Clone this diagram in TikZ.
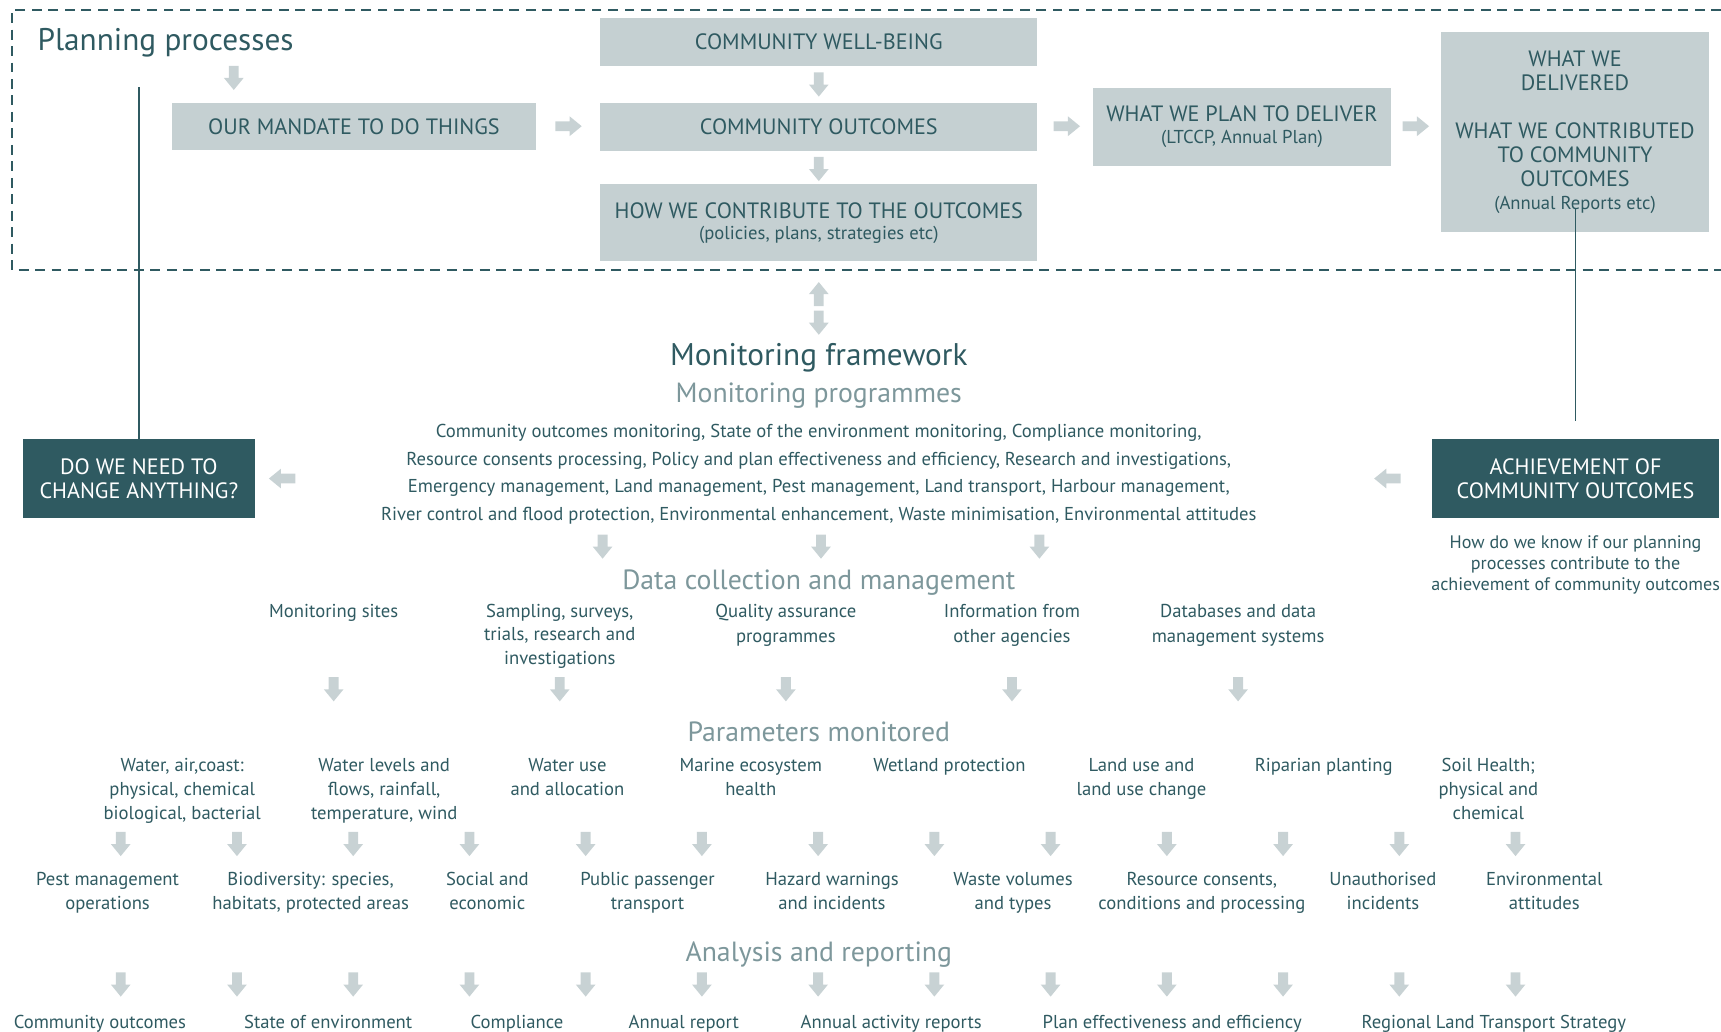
\documentclass[tikz,border=0pt]{standalone}
\usepackage{fontspec}
\setmainfont{PT Sans}
\definecolor{tealc}{HTML}{2F5A61}
\definecolor{boxc}{HTML}{C5D0D2}
\definecolor{arrc}{HTML}{C8D2D4}
\definecolor{greyc}{HTML}{7D979B}
\newcommand{\smallpar}{\fontsize{17}{18.5}\selectfont}
\begin{document}
\begin{tikzpicture}[x=1pt,y=-1pt,
  lbox/.style={fill=boxc, text=tealc, align=center, inner sep=0pt, font=\fontsize{20.2}{22}\selectfont},
  dbox/.style={fill=tealc, text=white, align=center, inner sep=0pt, font=\fontsize{20.2}{22}\selectfont},
  bigtitle/.style={text=tealc, inner sep=0pt, font=\fontsize{28.5}{32}\selectfont},
  subtitle/.style={text=greyc, inner sep=0pt, font=\fontsize{25.3}{28}\selectfont},
  item/.style={text=tealc, align=center, inner sep=0pt, anchor=base, font=\fontsize{17}{22}\selectfont},
  para/.style={text=tealc, align=center, inner sep=0pt, font=\fontsize{17}{25}\selectfont},
  link/.style={draw=tealc, line width=1.5pt},
  darr/.pic={\fill[arrc] (-4.5,0) -- (4.5,0) -- (4.5,11) -- (9,11) -- (0,22) -- (-9,11) -- (-4.5,11) -- cycle;},
  uarr/.pic={\fill[arrc] (0,0) -- (9,11) -- (4.5,11) -- (4.5,22) -- (-4.5,22) -- (-4.5,11) -- (-9,11) -- cycle;},
  rarr/.pic={\fill[arrc] (0,-4.5) -- (13,-4.5) -- (13,-9) -- (24,0) -- (13,9) -- (13,4.5) -- (0,4.5) -- cycle;},
  larr/.pic={\fill[arrc] (24,-4.5) -- (11,-4.5) -- (11,-9) -- (0,0) -- (11,9) -- (11,4.5) -- (24,4.5) -- cycle;}
]
\useasboundingbox (0,0) rectangle (1568,940);
% planning area
\draw[tealc, line width=1.8pt, dash pattern=on 9pt off 6pt] (1568,9) -- (11,9) -- (11,246) -- (1568,246);
\node[bigtitle, anchor=west] (pp) at (34,39) {Planning processes};
\node[lbox, minimum width=331, minimum height=43] (mandate) at (322.5,115.5) {OUR MANDATE TO DO THINGS};
\node[lbox, minimum width=398, minimum height=44] (cwb) at (746,38) {COMMUNITY WELL-BEING};
\node[lbox, minimum width=398, minimum height=44] (co) at (746,115.5) {COMMUNITY OUTCOMES};
\node[lbox, minimum width=398, minimum height=70] (how) at (746,203) {HOW WE CONTRIBUTE TO THE OUTCOMES\\[-3pt]\smallpar (policies, plans, strategies etc)};
\node[lbox, minimum width=271, minimum height=71] (plan) at (1131.5,115.5) {WHAT WE PLAN TO DELIVER\\[-2pt]\smallpar (LTCCP, Annual Plan)};
\node[lbox, minimum width=244, minimum height=182] (deliv) at (1435,120.5) {WHAT WE\\DELIVERED\\[22pt]WHAT WE CONTRIBUTED\\TO COMMUNITY\\OUTCOMES\\[-1pt]\smallpar (Annual Reports etc)};
\pic at (213,60) {darr};
\pic at (746,66) {darr};
\pic at (746,143) {darr};
\pic at (506,115) {rarr};
\pic at (960,115) {rarr};
\pic at (1278,115) {rarr};
% side boxes
\node[dbox, minimum width=211, minimum height=72] (change) at (126.5,436) {DO WE NEED TO\\CHANGE ANYTHING?};
\node[dbox, minimum width=261, minimum height=72] (achieve) at (1435.5,436) {ACHIEVEMENT OF\\COMMUNITY OUTCOMES};
\coordinate (ltop) at (126.5,79);
\draw[link] (change.north) -- (ltop);
\coordinate (rtop) at (1435.5,190);
\coordinate (rbot) at (1435.5,384);
\draw[link] (rtop) -- (rbot);
\pic at (245,436) {larr};
\pic at (1252,436) {larr};
\node[item, font=\fontsize{16.5}{19}\selectfont] (know) at (1435.5,538) {How do we know if our planning\\processes contribute to the\\achievement of community outcomes};
% monitoring framework
\pic at (746,257) {uarr};
\pic at (746,283) {darr};
\node[bigtitle] (mf) at (746,326) {Monitoring framework};
\node[subtitle] (mp) at (746,360) {Monitoring programmes};
\node[para] (prog) at (746,432) {Community outcomes monitoring, State of the environment monitoring, Compliance monitoring,\\Resource consents processing, Policy and plan effectiveness and efficiency, Research and investigations,\\Emergency management, Land management, Pest management, Land transport, Harbour management,\\River control and flood protection, Environmental enhancement, Waste minimisation, Environmental attitudes};
\foreach \x in {549,748,947} {\pic at (\x,487) {darr};}
% data collection
\node[subtitle] (dc) at (746,531) {Data collection and management};
\node[item] (d1) at (304,563) {Monitoring sites};
\node[item, font=\fontsize{17}{21}\selectfont] (d2) at (510,605) {Sampling, surveys,\\trials, research and\\investigations};
\node[item] (d3) at (716,585) {Quality assurance\\programmes};
\node[item] (d4) at (922,585) {Information from\\other agencies};
\node[item] (d5) at (1128,585) {Databases and data\\management systems};
\foreach \x in {304,510,716,922,1128} {\pic at (\x,617) {darr};}
% parameters
\node[subtitle] (pm) at (746,667) {Parameters monitored};
\node[item] (p1) at (166,747) {Water, air,coast:\\physical, chemical\\biological, bacterial};
\node[item] (p2) at (350,747) {Water levels and\\flows, rainfall,\\temperature, wind};
\node[item] (p3) at (517,725) {Water use\\and allocation};
\node[item] (p4) at (684,725) {Marine ecosystem\\health};
\node[item] (p5) at (865,703) {Wetland protection};
\node[item] (p6) at (1040,725) {Land use and\\land use change};
\node[item] (p7) at (1206,703) {Riparian planting};
\node[item] (p8) at (1356,747) {Soil Health;\\physical and\\chemical};
\foreach \i in {0,...,12} {\pic at ({110+105.9*\i},758) {darr};}
\node[item] (q1) at (98,829) {Pest management\\operations};
\node[item] (q2) at (283,829) {Biodiversity: species,\\habitats, protected areas};
\node[item] (q3) at (444,829) {Social and\\economic};
\node[item] (q4) at (590,829) {Public passenger\\transport};
\node[item] (q5) at (758,829) {Hazard warnings\\and incidents};
\node[item] (q6) at (923,829) {Waste volumes\\and types};
\node[item] (q7) at (1095,829) {Resource consents,\\conditions and processing};
\node[item] (q8) at (1260,829) {Unauthorised\\incidents};
\node[item] (q9) at (1407,829) {Environmental\\attitudes};
% analysis
\node[subtitle] (ar) at (746,870) {Analysis and reporting};
\foreach \i in {0,...,12} {\pic at ({110+105.9*\i},886) {darr};}
\node[item] (r1) at (91,937) {Community outcomes};
\node[item] (r2) at (299,937) {State of environment};
\node[item] (r3) at (471,937) {Compliance};
\node[item] (r4) at (623,937) {Annual report};
\node[item] (r5) at (812,937) {Annual activity reports};
\node[item] (r6) at (1068,937) {Plan effectiveness and efficiency};
\node[item] (r7) at (1361,937) {Regional Land Transport Strategy};
\end{tikzpicture}
\end{document}
